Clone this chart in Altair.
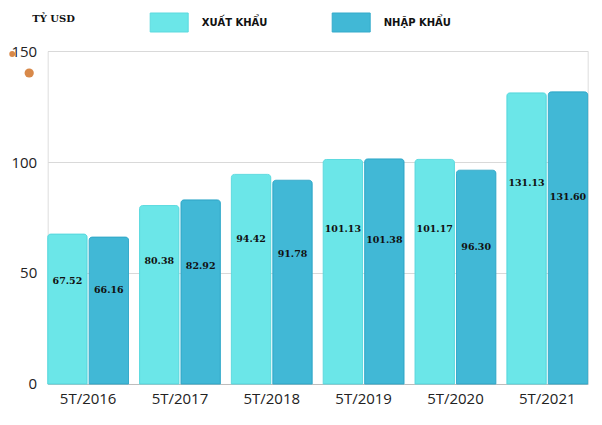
import altair as alt
import pandas as pd

years = ["5T/2016", "5T/2017", "5T/2018", "5T/2019", "5T/2020", "5T/2021"]
export_vals = [67.52, 80.38, 94.42, 101.13, 101.17, 131.13]
import_vals = [66.16, 82.92, 91.78, 101.38, 96.30, 131.60]
series_names = ["XUẤT KHẨU", "NHẬP KHẨU"]
fill_colors = ["#6BE6E8", "#41B8D6"]
stroke_colors = ["#5CDADF", "#35ABCB"]
label_factor = [0.69, 0.64]
unit_label = ["TỶ USD"]

rows = []
for i, yr in enumerate(years):
    for s, vals in enumerate([export_vals, import_vals]):
        rows.append({"year": yr, "series": series_names[s], "value": vals[i],
                     "lab": f"{vals[i]:.2f}", "pos": vals[i] * label_factor[s]})
df = pd.DataFrame(rows)

x = alt.X("year:N", sort=years,
          scale=alt.Scale(paddingInner=0.12, paddingOuter=0),
          axis=alt.Axis(title=None, labelAngle=0, labelFontSize=15, labelFont="Open Sans",
                        labelColor="#222", domainColor="#bdbdbd", ticks=False, labelPadding=8,
                        grid=False))
xo = alt.XOffset("series:N", sort=series_names, scale=alt.Scale(paddingInner=0.05))

legend_label_expr = ("datum.value == '" + series_names[1] + "' ? '\u2003\u2002' + datum.label : datum.label")

bars = alt.Chart(df).mark_bar(cornerRadiusTopLeft=3, cornerRadiusTopRight=3, strokeWidth=1).encode(
    x=x, xOffset=xo,
    y=alt.Y("value:Q", scale=alt.Scale(domain=[0, 150], nice=False),
            axis=alt.Axis(title=None, values=[0, 50, 100, 150], labelFontSize=15,
                          labelFont="Open Sans", labelColor="#222", domain=False, ticks=False,
                          labelPadding=11, gridColor="#d9d9d9", gridWidth=1)),
    color=alt.Color("series:N", sort=series_names,
                    scale=alt.Scale(domain=series_names, range=fill_colors),
                    legend=alt.Legend(title=None, orient="none", legendX=102, legendY=-48,
                                      direction="horizontal",
                                      symbolType="M-1,-0.5H1V0.5H-1Z", symbolSize=1444,
                                      symbolStrokeWidth=1, symbolStrokeColor="#5CC9D8",
                                      labelFont="DejaVu Sans", labelFontWeight="bold",
                                      labelFontSize=10, labelColor="#111", labelOffset=13,
                                      labelExpr=legend_label_expr,
                                      columnPadding=62)),
    stroke=alt.Stroke("series:N", sort=series_names,
                      scale=alt.Scale(domain=series_names, range=stroke_colors), legend=None),
)

labels = alt.Chart(df).mark_text(font="DejaVu Serif", fontWeight="bold", fontSize=9.5,
                                 color="#111", baseline="middle").encode(
    x=x, xOffset=xo,
    y=alt.Y("pos:Q"),
    text="lab:N",
)

unit = alt.Chart(pd.DataFrame({"t": unit_label})).mark_text(
    font="DejaVu Serif", fontWeight="bold", fontSize=10, color="#111",
    align="left", baseline="middle").encode(
    x=alt.value(-15.5), y=alt.value(-32), text="t:N")

dot1 = alt.Chart(pd.DataFrame({"k": [0]})).mark_circle(color="#D8894A", opacity=1, size=34).encode(
    x=alt.value(-35.5), y=alt.value(3))
dot2 = alt.Chart(pd.DataFrame({"k": [0]})).mark_circle(color="#D8894A", opacity=1, size=85).encode(
    x=alt.value(-18.5), y=alt.value(22))

chart = alt.layer(bars, labels, unit, dot1, dot2).properties(
    width=540, height=333,
    autosize=alt.AutoSizeParams(type="none"),
    padding={"left": 39.7, "top": 43, "right": 6, "bottom": 30},
).configure_view(stroke=None).configure(background="white")

chart.save("out.html", embed_options={"renderer": "svg", "actions": False})
